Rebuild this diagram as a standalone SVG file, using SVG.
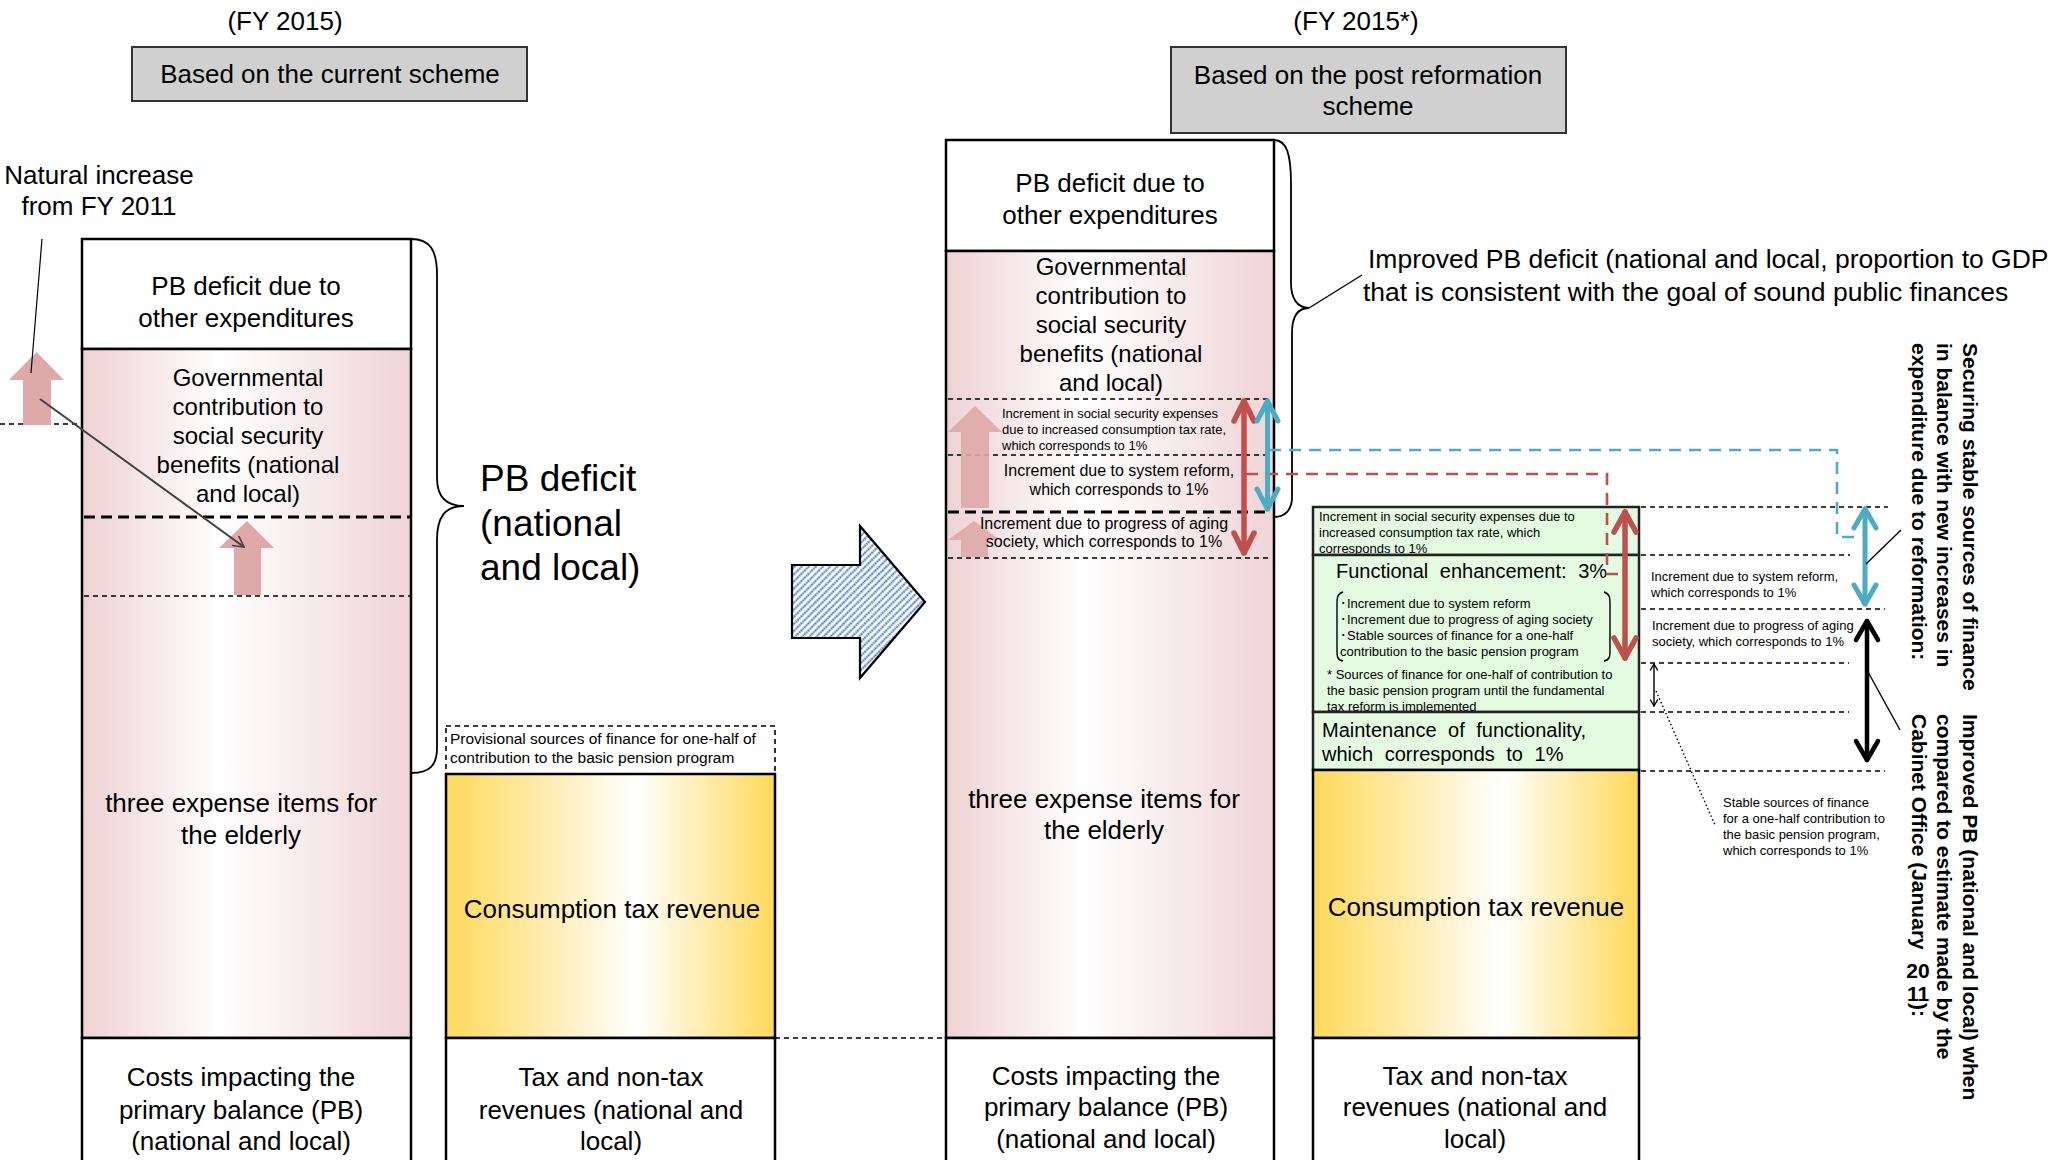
<svg xmlns="http://www.w3.org/2000/svg" width="2049" height="1160" viewBox="0 0 2049 1160">
<style>
.t{font-family:"Liberation Sans",Arial,sans-serif;fill:#000}
.c{text-anchor:middle}
.f26{font-size:26px}
.f265{font-size:26.5px}
.f24{font-size:24px}
.f20{font-size:20px;word-spacing:6px}
.f16{font-size:16px}
.f13{font-size:13px}
.f15{font-size:15.5px}
.f37{font-size:37px}
.vb{font-size:21px;font-weight:bold}
.box{stroke:#000;stroke-width:2.5}
.gbox{fill:#e4fbe2;stroke:#222;stroke-width:2.5}
.dthin{stroke:#000;stroke-width:1.4;stroke-dasharray:5 4;fill:none}
.dthick{stroke:#000;stroke-width:3.2;stroke-dasharray:11 6;fill:none}
.pa{fill:#dfa9aa}
.red{stroke:#c0504d;fill:none;stroke-linecap:round;stroke-linejoin:round}
.blue{stroke:#4bacc6;fill:none;stroke-linecap:round;stroke-linejoin:round}
.blk{stroke:#000;fill:none;stroke-linecap:round;stroke-linejoin:round}
.rdash{stroke:#c0504d;stroke-width:2.6;stroke-dasharray:12 8;fill:none}
.bdash{stroke:#4bacc6;stroke-width:2.6;stroke-dasharray:12 8;fill:none}
.lead{stroke:#000;stroke-width:1.4;fill:none}
</style>
<defs>
<linearGradient id="gPink" x1="0" y1="0" x2="1" y2="0">
<stop offset="0" stop-color="#eed2d4"/><stop offset="0.42" stop-color="#ffffff"/><stop offset="1" stop-color="#efd4d6"/>
</linearGradient>
<linearGradient id="gYellow" x1="0" y1="0" x2="1" y2="0">
<stop offset="0" stop-color="#ffd95a"/><stop offset="0.58" stop-color="#ffffff"/><stop offset="1" stop-color="#ffd95a"/>
</linearGradient>
<pattern id="hatch" width="5" height="5" patternUnits="userSpaceOnUse" patternTransform="rotate(-45)">
<rect width="5" height="5" fill="#ffffff"/>
<line x1="0" y1="2.5" x2="5" y2="2.5" stroke="#3a6dbd" stroke-width="1.8" stroke-dasharray="1.8 0.8"/>
</pattern>
<marker id="openArrow" viewBox="0 0 12 12" refX="11" refY="6" markerWidth="12" markerHeight="12" markerUnits="userSpaceOnUse" orient="auto">
<path d="M0,0 L11,6 L0,12" fill="none" stroke="#404040" stroke-width="1.6"/>
</marker>
</defs>

<rect width="2049" height="1160" fill="#ffffff"/>

<!-- Headers -->
<g id="header-left">
<text class="t f26 c" x="285" y="30">(FY 2015)</text>
<rect x="132" y="47" width="395" height="54" fill="#d0d0d0" stroke="#333" stroke-width="2"/>
<text class="t f26 c" x="330" y="83">Based on the current scheme</text>
</g>
<g id="header-right">
<text class="t f26 c" x="1356" y="30">(FY 2015*)</text>
<rect x="1171" y="47" width="395" height="86" fill="#d0d0d0" stroke="#333" stroke-width="2"/>
<text class="t f26 c" x="1368" y="84">Based on the post reformation</text>
<text class="t f26 c" x="1368" y="115">scheme</text>
</g>

<g id="natural-increase">
<text class="t f26 c" x="99" y="184">Natural increase</text>
<text class="t f26 c" x="99" y="215">from FY 2011</text>
</g>

<!-- Left cost column -->
<g id="left-costs">
<rect x="82" y="239" width="329" height="110" fill="#ffffff" class="box"/>
<rect x="82" y="349" width="329" height="689" fill="url(#gPink)" class="box"/>
<text class="t f26 c" x="246" y="295">PB deficit due to</text>
<text class="t f26 c" x="246" y="327">other expenditures</text>
<text class="t f24 c" x="248" y="386">Governmental</text>
<text class="t f24 c" x="248" y="415">contribution to</text>
<text class="t f24 c" x="248" y="444">social security</text>
<text class="t f24 c" x="248" y="473">benefits (national</text>
<text class="t f24 c" x="248" y="502">and local)</text>
<line x1="84" y1="517" x2="410" y2="517" class="dthick"/>
<line x1="84" y1="596" x2="410" y2="596" class="dthin"/>
<path class="pa" d="M247,521 L274,548 L261,548 L261,595 L234,595 L234,548 L219,548 Z"/>
<text class="t f26 c" x="241" y="812">three expense items for</text>
<text class="t f26 c" x="241" y="844">the elderly</text>
</g>
<g id="left-costs-label">
<rect x="82" y="1038" width="329" height="130" fill="#ffffff" class="box"/>
<text class="t f26 c" x="241" y="1086">Costs impacting the</text>
<text class="t f26 c" x="241" y="1119">primary balance (PB)</text>
<text class="t f26 c" x="241" y="1150">(national and local)</text>
</g>

<g id="left-natural-arrow">
<line x1="0" y1="424" x2="80" y2="424" class="dthin"/>
<path class="pa" d="M36.5,352 L64,380 L51,380 L51,425 L23,425 L23,380 L9,380 Z"/>
</g>

<g id="left-pb-deficit">
<text class="t f37" x="480" y="491">PB deficit</text>
<text class="t f37" x="480" y="536">(national</text>
<text class="t f37" x="480" y="580">and local)</text>
</g>

<!-- Left revenues -->
<g id="left-provisional">
<rect x="446" y="726" width="329" height="48" fill="#ffffff" stroke="#000" stroke-width="1.6" stroke-dasharray="5 4"/>
<text class="t f15" x="450" y="744">Provisional sources of finance for one-half of</text>
<text class="t f15" x="450" y="763">contribution to the basic pension program</text>
</g>
<g id="left-consumption">
<rect x="446" y="774" width="329" height="264" fill="url(#gYellow)" class="box"/>
<text class="t f26 c" x="612" y="918">Consumption tax revenue</text>
</g>
<g id="left-revenues-label">
<rect x="446" y="1038" width="329" height="130" fill="#ffffff" class="box"/>
<text class="t f26 c" x="611" y="1086">Tax and non-tax</text>
<text class="t f26 c" x="611" y="1119">revenues (national and</text>
<text class="t f26 c" x="611" y="1150">local)</text>
</g>

<!-- Big hatched arrow -->
<g id="transition-arrow">
<path d="M792,565 L860,565 L860,526 L925,602 L860,678 L860,638 L792,638 Z" fill="url(#hatch)" stroke="#000" stroke-width="2.2" stroke-linejoin="miter"/>
</g>

<!-- Right cost column -->
<g id="right-costs">
<rect x="946" y="140" width="328" height="111" fill="#ffffff" class="box"/>
<rect x="946" y="251" width="328" height="787" fill="url(#gPink)" class="box"/>
<text class="t f26 c" x="1110" y="192">PB deficit due to</text>
<text class="t f26 c" x="1110" y="224">other expenditures</text>
<text class="t f24 c" x="1111" y="275">Governmental</text>
<text class="t f24 c" x="1111" y="304">contribution to</text>
<text class="t f24 c" x="1111" y="333">social security</text>
<text class="t f24 c" x="1111" y="362">benefits (national</text>
<text class="t f24 c" x="1111" y="391">and local)</text>
<line x1="948" y1="399" x2="1272" y2="399" class="dthin"/>
<line x1="948" y1="455" x2="1272" y2="455" class="dthin"/>
<line x1="948" y1="512" x2="1266" y2="512" class="dthick"/>
<line x1="948" y1="558" x2="1272" y2="558" class="dthin"/>
<path class="pa" opacity="0.9" d="M975,406 L1002,432 L989,432 L989,508 L961,508 L961,432 L948,432 Z"/>
<path class="pa" opacity="0.9" d="M974,521 L1000,540 L988,540 L988,557 L961,557 L961,540 L948,540 Z"/>
<text class="t f13" x="1002" y="418">Increment in social security expenses</text>
<text class="t f13" x="1002" y="434">due to increased consumption tax rate,</text>
<text class="t f13" x="1002" y="450">which corresponds to 1%</text>
<text class="t f16 c" x="1119" y="476">Increment due to system reform,</text>
<text class="t f16 c" x="1119" y="495">which corresponds to 1%</text>
<text class="t f16 c" x="1104" y="529">Increment due to progress of aging</text>
<text class="t f16 c" x="1104" y="547">society, which corresponds to 1%</text>
<text class="t f26 c" x="1104" y="808">three expense items for</text>
<text class="t f26 c" x="1104" y="839">the elderly</text>
</g>
<g id="right-costs-label">
<rect x="946" y="1038" width="328" height="130" fill="#ffffff" class="box"/>
<text class="t f26 c" x="1106" y="1085">Costs impacting the</text>
<text class="t f26 c" x="1106" y="1116">primary balance (PB)</text>
<text class="t f26 c" x="1106" y="1148">(national and local)</text>
</g>

<g id="improved-pb-text">
<text class="t f265" x="1368" y="268">Improved PB deficit (national and local, proportion to GDP</text>
<text class="t f265" x="1363" y="301">that is consistent with the goal of sound public finances</text>
</g>

<!-- Right revenue column -->
<g id="green-increment">
<rect x="1313" y="507" width="326" height="48" class="gbox"/>
<text class="t f13" x="1319" y="521">Increment in social security expenses due to</text>
<text class="t f13" x="1319" y="537">increased consumption tax rate, which</text>
<text class="t f13" x="1319" y="553">corresponds to 1%</text>
</g>
<g id="green-functional">
<rect x="1313" y="555" width="326" height="157" class="gbox"/>
<text class="t f20" x="1336" y="578">Functional enhancement: 3%</text>
<path d="M1343,592 C1337,594 1337,598 1337,604 L1337,650 C1337,656 1337,660 1343,661" fill="none" stroke="#000" stroke-width="1.4"/>
<path d="M1604,592 C1610,594 1610,598 1610,604 L1610,650 C1610,656 1610,660 1604,661" fill="none" stroke="#000" stroke-width="1.4"/>
<text class="t f13" x="1340" y="608">･Increment due to system reform</text>
<text class="t f13" x="1340" y="624">･Increment due to progress of aging society</text>
<text class="t f13" x="1340" y="640">･Stable sources of finance for a one-half</text>
<text class="t f13" x="1340" y="656">contribution to the basic pension program</text>
<text class="t f13" x="1327" y="679">* Sources of finance for one-half of contribution to</text>
<text class="t f13" x="1327" y="695">the basic pension program until the fundamental</text>
<text class="t f13" x="1327" y="711">tax reform is implemented</text>
</g>
<g id="green-maintenance">
<rect x="1313" y="712" width="326" height="58" class="gbox"/>
<text class="t f20" x="1322" y="737">Maintenance of functionality,</text>
<text class="t f20" x="1322" y="761">which corresponds to 1%</text>
</g>
<g id="right-consumption">
<rect x="1313" y="770" width="326" height="268" fill="url(#gYellow)" class="box"/>
<text class="t f26 c" x="1476" y="916">Consumption tax revenue</text>
</g>
<g id="right-revenues-label">
<rect x="1313" y="1038" width="326" height="130" fill="#ffffff" class="box"/>
<text class="t f26 c" x="1475" y="1085">Tax and non-tax</text>
<text class="t f26 c" x="1475" y="1116">revenues (national and</text>
<text class="t f26 c" x="1475" y="1148">local)</text>
</g>

<!-- Right annotations -->
<g id="right-guides">
<line x1="1641" y1="507" x2="1888" y2="507" class="dthin"/>
<line x1="1641" y1="555" x2="1850" y2="555" class="dthin"/>
<line x1="1641" y1="609" x2="1885" y2="609" class="dthin"/>
<line x1="1641" y1="663" x2="1849" y2="663" class="dthin"/>
<line x1="1641" y1="712" x2="1849" y2="712" class="dthin"/>
<line x1="1641" y1="771" x2="1885" y2="771" class="dthin"/>
<text class="t f13" x="1651" y="581">Increment due to system reform,</text>
<text class="t f13" x="1651" y="597">which corresponds to 1%</text>
<text class="t f13" x="1652" y="630">Increment due to progress of aging</text>
<text class="t f13" x="1652" y="646">society, which corresponds to 1%</text>
<text class="t f13" x="1723" y="807">Stable sources of finance</text>
<text class="t f13" x="1723" y="823">for a one-half contribution to</text>
<text class="t f13" x="1723" y="839">the basic pension program,</text>
<text class="t f13" x="1723" y="855">which corresponds to 1%</text>
</g>

<g id="vertical-notes">
<g transform="translate(1963,343) rotate(90)">
<text class="t vb" x="0" y="0">Securing stable sources of finance</text>
<text class="t vb" x="0" y="26">in balance with new increases in</text>
<text class="t vb" x="0" y="51.5">expenditure due to reformation:</text>
</g>
<g transform="translate(1963,714) rotate(90)">
<text class="t vb" x="0" y="0">Improved PB (national and local) when</text>
<text class="t vb" x="0" y="26">compared to estimate made by the</text>
<text class="t vb" x="0" y="51.5">Cabinet Office (January</text>
<text class="t vb" x="289" y="51.5">):</text>
</g>
<text class="t vb c" x="1918" y="978">20</text>
<text class="t vb c" x="1918" y="1001">11</text>
</g>

<!-- Connectors -->
<g id="connectors">
<path d="M411,239 C430,239 437,250 437,275 L437,478 C437,495 445,506 464,506 C445,506 437,517 437,540 L437,748 C437,765 430,773 411,773" fill="none" stroke="#000" stroke-width="1.8"/>
<path d="M1274,140 C1287,140 1291,155 1291,184 L1291,283 C1291,298 1297,308 1309,308 C1297,308 1292,318 1292,333 L1292,497 C1292,510 1285,517 1274,517" fill="none" stroke="#000" stroke-width="1.8"/>
<line x1="1309" y1="308" x2="1362" y2="275" class="lead"/>
<line x1="42" y1="239" x2="31" y2="373" stroke="#000" stroke-width="1.2"/>
<line x1="40" y1="399" x2="244" y2="547" stroke="#404040" stroke-width="2" marker-end="url(#openArrow)"/>
<line x1="775" y1="1038" x2="945" y2="1038" class="dthin"/>

<path class="rdash" d="M1246,474 L1607,474 L1607,574 L1619,574"/>
<path class="bdash" d="M1269,450 L1837,450 L1837,537 L1860,537"/>

<g class="red" stroke-width="5.5">
<line x1="1244" y1="401" x2="1244" y2="553"/>
<path d="M1234,421 L1244,401 L1254,421"/>
<path d="M1234,533 L1244,553 L1254,533"/>
<line x1="1625" y1="512" x2="1625" y2="658"/>
<path d="M1614,532 L1625,512 L1636,532"/>
<path d="M1614,638 L1625,658 L1636,638"/>
</g>
<g class="blue" stroke-width="5">
<line x1="1267.5" y1="401" x2="1267.5" y2="509"/>
<path d="M1257,421 L1267.5,401 L1278,421"/>
<path d="M1257,489 L1267.5,509 L1278,489"/>
<line x1="1865" y1="509" x2="1865" y2="604"/>
<path d="M1854,528 L1865,509 L1876,528"/>
<path d="M1854,585 L1865,604 L1876,585"/>
</g>
<g class="blk" stroke-width="4.5">
<line x1="1867" y1="621" x2="1867" y2="760"/>
<path d="M1856,640 L1867,621 L1878,640"/>
<path d="M1856,741 L1867,760 L1878,741"/>
</g>
<g class="blk" stroke-width="1.4">
<line x1="1654" y1="664" x2="1654" y2="706"/>
<path d="M1650.5,670 L1654,664 L1657.5,670"/>
<path d="M1650.5,700 L1654,706 L1657.5,700"/>
</g>
<line x1="1656" y1="691" x2="1715" y2="825" stroke="#000" stroke-width="1.4" stroke-dasharray="1.5 2.5"/>
<line x1="1866" y1="564" x2="1901" y2="530" class="lead"/>
<line x1="1868" y1="672" x2="1900" y2="730" class="lead"/>
</g>
</svg>
